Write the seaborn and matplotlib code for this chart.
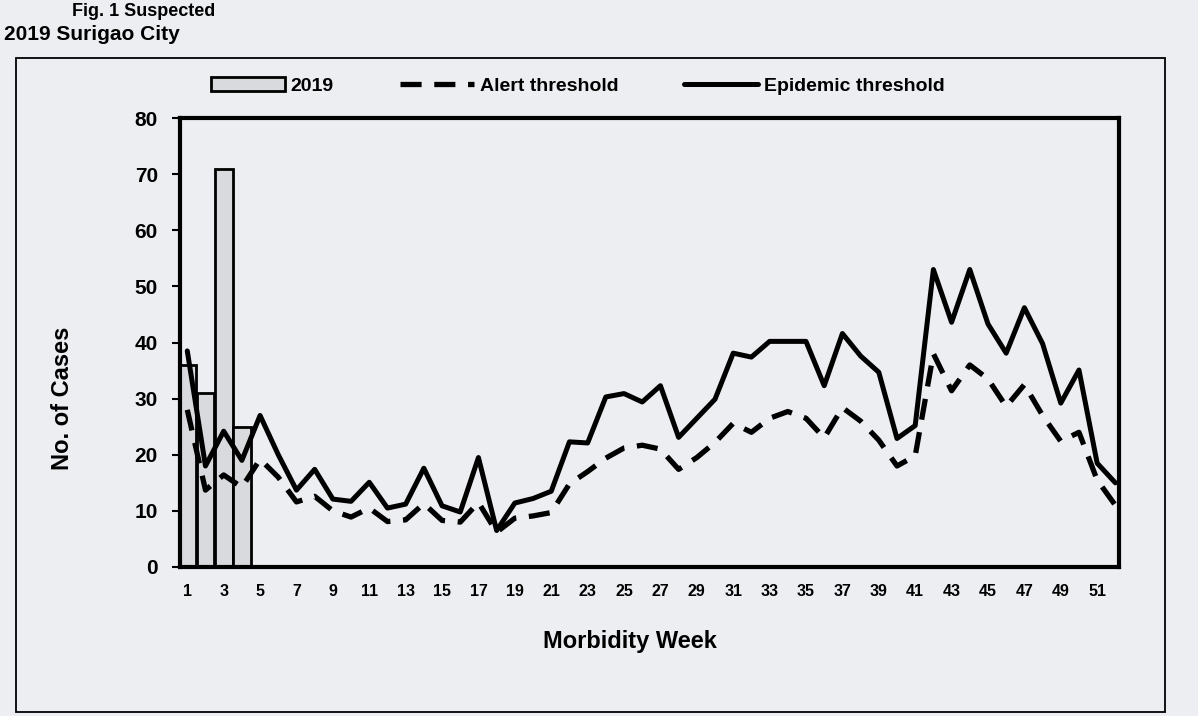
import matplotlib
matplotlib.use('Agg')
import matplotlib.pyplot as plt
import seaborn as sns
from matplotlib.patches import Rectangle

# weekly values
weeks = list(range(1, 53))
epidemic = [38.5, 18.0, 24.2, 19.0, 27.0, 20.0, 13.7, 17.4, 12.1, 11.7,
            15.1, 10.5, 11.2, 17.6, 10.9, 9.8, 19.5, 6.5, 11.4, 12.2,
            13.5, 22.3, 22.1, 30.3, 30.9, 29.4, 32.3, 23.1, 26.5, 29.9,
            38.1, 37.4, 40.2, 40.2, 40.2, 32.3, 41.6, 37.6, 34.7, 22.9,
            25.2, 53.0, 43.6, 53.0, 43.3, 38.1, 46.2, 39.8, 29.2, 35.1,
            18.5, 15.0]
alert = [28.0, 13.7, 16.4, 14.2, 19.2, 16.0, 11.6, 12.6, 10.0, 8.9,
         10.5, 8.1, 8.4, 11.3, 8.3, 8.0, 11.5, 6.2, 8.7, 9.1,
         9.7, 14.8, 17.0, 19.4, 21.2, 21.7, 21.0, 17.4, 19.5, 22.2,
         25.6, 24.0, 26.5, 27.7, 26.5, 23.0, 28.4, 26.0, 22.6, 18.0,
         19.8, 38.0, 31.4, 36.0, 33.5, 28.6, 32.5, 27.0, 22.4, 24.0,
         15.5, 11.0]
bar_weeks = [1, 2, 3, 4]
bar_cases = [36, 31, 71, 25]
xtick_weeks = list(range(1, 52, 2))
ytick_vals = list(range(0, 81, 10))

sns.set_style('white')
plt.rcParams['font.family'] = ['Liberation Sans', 'DejaVu Sans']
plt.rcParams['text.color'] = 'black'
plt.rcParams['axes.labelcolor'] = 'black'
plt.rcParams['xtick.color'] = 'black'
plt.rcParams['ytick.color'] = 'black'
bg = '#eceef2'

fig = plt.figure(figsize=(11.98, 7.16), dpi=100, facecolor=bg)
W, H = 1198, 716
ax = fig.add_axes([180 / W, 1 - 567 / H, (1119 - 180) / W, (567 - 118) / H])
ax.set_facecolor(bg)

sns.barplot(x=bar_weeks, y=bar_cases, native_scale=True, width=0.97,
            color='#d9dadd', saturation=1, edgecolor='black', linewidth=2,
            label='2019', ax=ax)
sns.lineplot(x=weeks, y=alert, color='black', linewidth=3.8,
             linestyle=(0, (4, 2.4)), label='Alert threshold', ax=ax)
sns.lineplot(x=weeks, y=epidemic, color='black', linewidth=3.6,
             label='Epidemic threshold', ax=ax)

ax.set_xlim(0.6, 52.2)
ax.set_ylim(0, 80)
ax.set_xticks(xtick_weeks)
ax.set_xticklabels([str(w) for w in xtick_weeks], fontsize=11.5, fontweight='bold')
ax.set_yticks(ytick_vals)
ax.set_yticklabels([str(v) for v in ytick_vals], fontsize=15, fontweight='bold')
ax.tick_params(axis='x', length=0, pad=12)
ax.tick_params(axis='y', length=6, width=1.5, pad=10, left=True)
for s in ax.spines.values():
    s.set_visible(True)
    s.set_color('black')
    s.set_linewidth(3)

ax.set_xlabel('Morbidity Week', fontsize=17, fontweight='bold')
ax.xaxis.set_label_coords(0.479, -0.14)
ax.set_ylabel('No. of Cases', fontsize=17, fontweight='bold')
ax.yaxis.set_label_coords(-0.113, 0.375)

handles, labels = ax.get_legend_handles_labels()
if ax.get_legend() is not None:
    ax.get_legend().remove()
order = [labels.index(n) for n in ['2019', 'Alert threshold', 'Epidemic threshold']]
fig.legend([handles[i] for i in order], [labels[i] for i in order],
           loc='center', bbox_to_anchor=(578 / W, 1 - 86 / H), ncol=3,
           frameon=False, handlelength=3.8, handletextpad=0.3,
           columnspacing=3.4, prop={'weight': 'bold', 'size': 14})

# outer frame of the scanned figure and caption
fig.add_artist(Rectangle((16 / W, 1 - 712 / H), (1165 - 16) / W, (712 - 58) / H,
                         transform=fig.transFigure, fill=False,
                         edgecolor='black', linewidth=1.3))
fig.text(4 / W, 1 - 34 / H, '2019 Surigao City', fontsize=15, fontweight='bold',
         va='center', ha='left')
fig.text(72 / W, 1 - 11 / H, 'Fig. 1 Suspected', fontsize=13, fontweight='bold',
         va='center', ha='left')

fig.savefig('out.png', dpi=100, facecolor=bg)
